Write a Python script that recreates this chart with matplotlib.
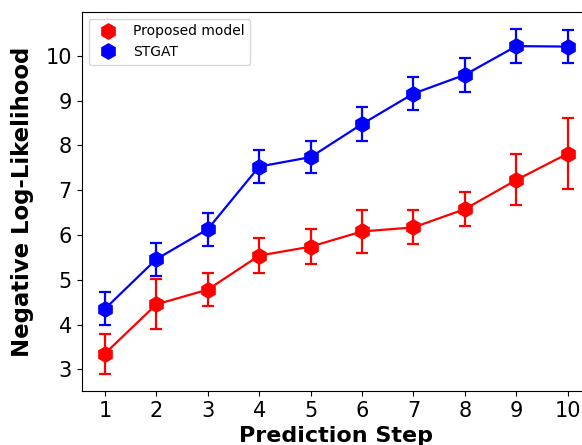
import matplotlib.pyplot as plt
from matplotlib.lines import Line2D

# Data
steps = [1, 2, 3, 4, 5, 6, 7, 8, 9, 10]
proposed_mean = [3.35, 4.45, 4.78, 5.54, 5.74, 6.08, 6.17, 6.58, 7.23, 7.82]
proposed_err = [0.45, 0.56, 0.37, 0.39, 0.39, 0.49, 0.38, 0.38, 0.57, 0.79]
stgat_mean = [4.35, 5.46, 6.13, 7.53, 7.74, 8.48, 9.16, 9.58, 10.22, 10.21]
stgat_err = [0.37, 0.37, 0.37, 0.36, 0.36, 0.37, 0.37, 0.38, 0.38, 0.36]

fig = plt.figure(figsize=(5.82, 4.45), dpi=100)
ax = fig.add_axes([0.1404, 0.1213, 0.875, 0.852])

ax.errorbar(steps, proposed_mean, yerr=proposed_err, color='red', marker='h',
            markersize=11, linewidth=1.6, elinewidth=1.6, capsize=4, capthick=1.6)
ax.errorbar(steps, stgat_mean, yerr=stgat_err, color='blue', marker='h',
            markersize=11, linewidth=1.6, elinewidth=1.6, capsize=4, capthick=1.6)

handles = [
    Line2D([], [], color='red', marker='h', linestyle='none', markersize=11, label='Proposed model'),
    Line2D([], [], color='blue', marker='h', linestyle='none', markersize=11, label='STGAT'),
]
ax.legend(handles=handles, loc='upper left', fontsize=10)

ax.set_xticks(steps)
ax.set_yticks([3, 4, 5, 6, 7, 8, 9, 10])
ax.tick_params(labelsize=15)
ax.set_xlabel('Prediction Step', fontsize=16, fontweight='bold')
ax.set_ylabel('Negative Log-Likelihood', fontsize=16.4, fontweight='bold', labelpad=8)

fig.savefig('out.png', dpi=100)
